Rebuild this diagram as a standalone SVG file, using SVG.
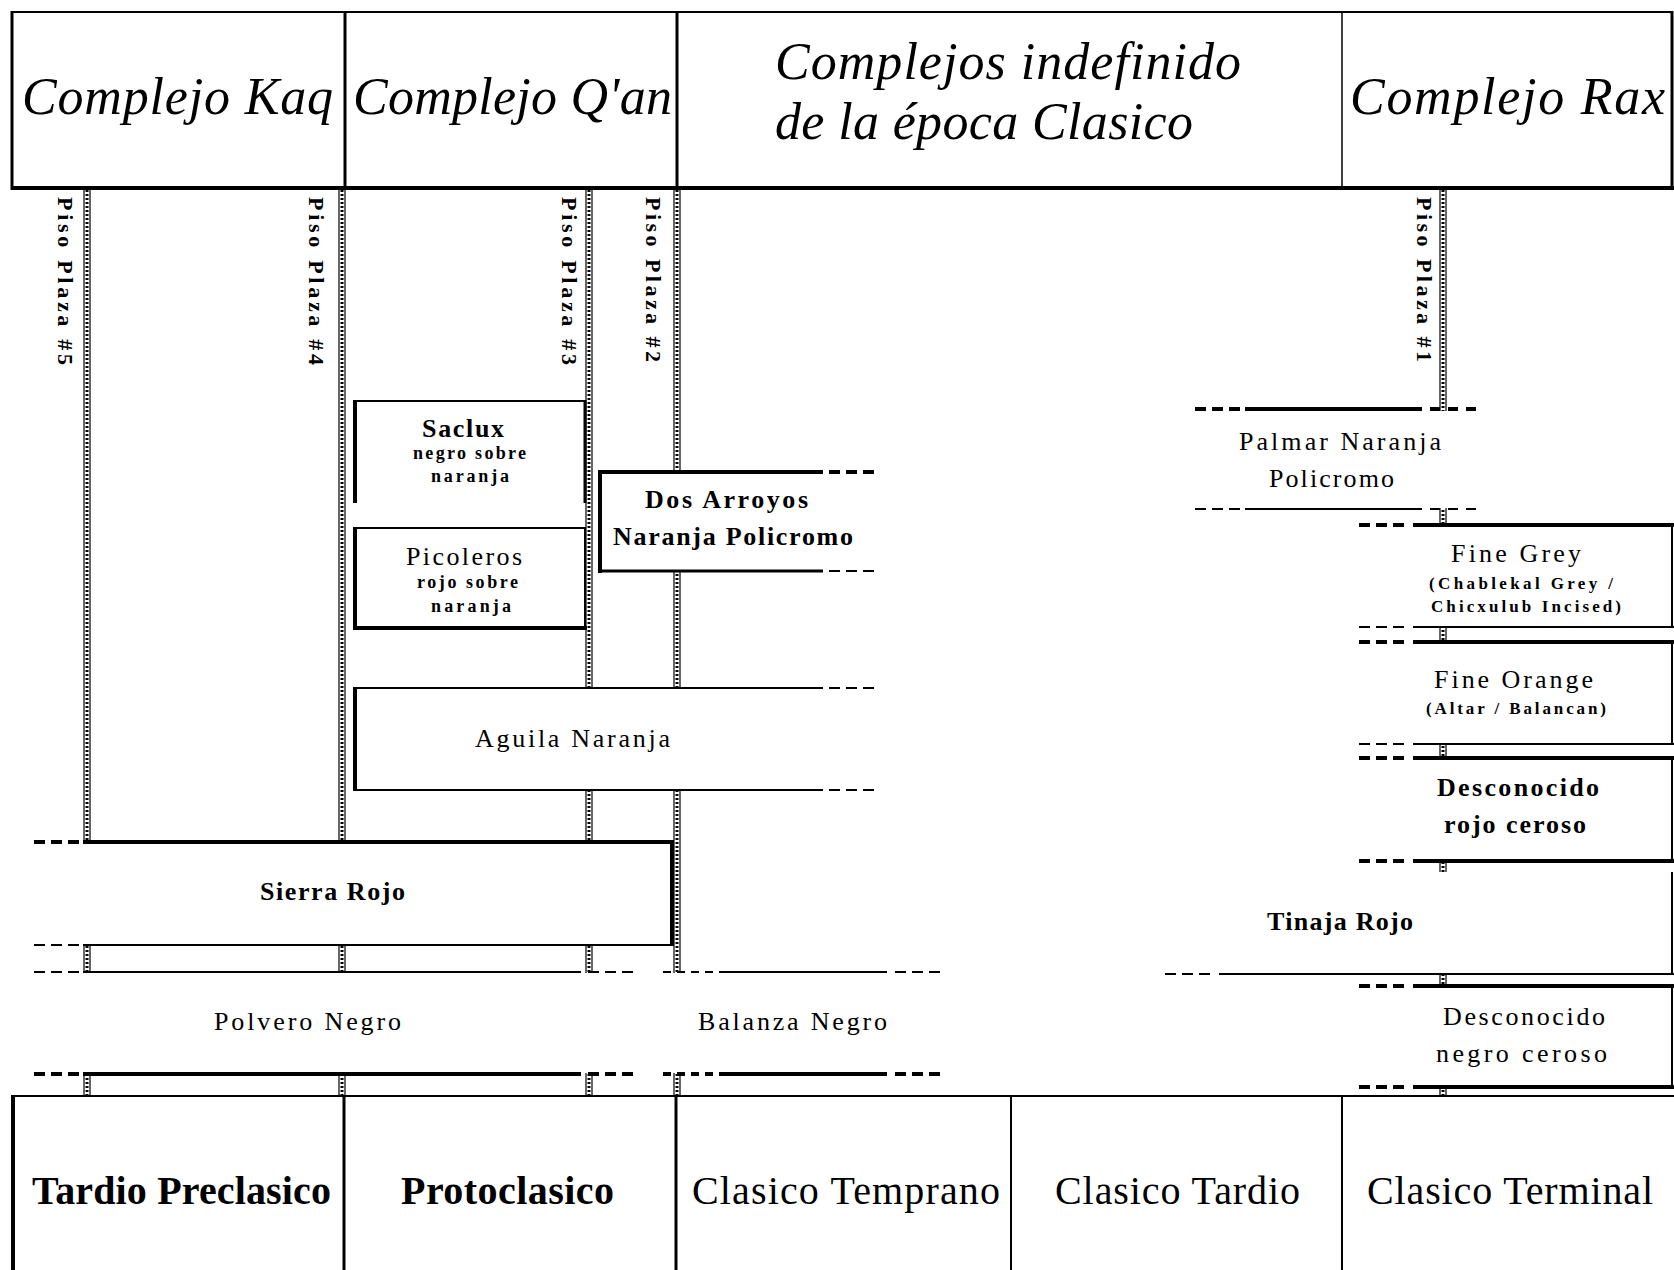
<svg xmlns="http://www.w3.org/2000/svg" width="1674" height="1270" viewBox="0 0 1674 1270">
<style>
.ln{stroke:#000;fill:none;stroke-linecap:butt}
.t4{stroke-width:4}
.t3{stroke-width:3}
.t2{stroke-width:2}
.t1{stroke-width:1.5}
.d{stroke-dasharray:11 6}
.wf{fill:#fff;stroke:none}
text{font-family:"Liberation Serif","Times New Roman",serif;fill:#000}
.hd{font-style:italic;font-size:52px}
.ft{font-size:40px}
.b{font-weight:bold}
.lb{font-size:26px}
.sm{font-size:18px;font-weight:bold}
.xs{font-size:17px;font-weight:bold}
.pl{font-size:22px;font-weight:bold}
.ro{stroke:#000;stroke-width:1.2}
.rm{stroke:#000;stroke-width:3;stroke-dasharray:2 2}
</style>
<rect width="1674" height="1270" fill="#fff"/>

<g id="header">
<line class="ln t2" x1="12" y1="12" x2="1673" y2="12"/>
<line class="ln t4" x1="11" y1="188" x2="1674" y2="188"/>
<line class="ln t3" x1="12" y1="11" x2="12" y2="190"/>
<line class="ln t3" x1="1672" y1="11" x2="1672" y2="190"/>
<line class="ln t3" x1="345" y1="12" x2="345" y2="188"/>
<line class="ln t3" x1="677" y1="12" x2="677" y2="188"/>
<line class="ln t1" x1="1342" y1="12" x2="1342" y2="188"/>
<text class="hd" x="22" y="114" textLength="311" lengthAdjust="spacing">Complejo Kaq</text>
<text class="hd" x="353" y="114" textLength="319" lengthAdjust="spacing">Complejo Q'an</text>
<text class="hd" x="775" y="79" textLength="466" lengthAdjust="spacing">Complejos indefinido</text>
<text class="hd" x="775" y="139" textLength="418" lengthAdjust="spacing">de la época Clasico</text>
<text class="hd" x="1350" y="114" textLength="315" lengthAdjust="spacing">Complejo Rax</text>
</g>

<g id="connectors">
<g id="piso-plaza-5">
<line class="ro" x1="84" y1="190" x2="84" y2="1096"/><line class="ro" x1="90" y1="190" x2="90" y2="1096"/><line class="rm" x1="87" y1="190" x2="87" y2="1096"/>
<text class="pl" x="58" y="197" transform="rotate(90 58 197)" textLength="168" lengthAdjust="spacing">Piso Plaza #5</text>
</g>
<g id="piso-plaza-4">
<line class="ro" x1="339" y1="190" x2="339" y2="1096"/><line class="ro" x1="345" y1="190" x2="345" y2="1096"/><line class="rm" x1="342" y1="190" x2="342" y2="1096"/>
<text class="pl" x="309" y="197" transform="rotate(90 309 197)" textLength="168" lengthAdjust="spacing">Piso Plaza #4</text>
</g>
<g id="piso-plaza-3">
<line class="ro" x1="586" y1="190" x2="586" y2="1096"/><line class="ro" x1="592" y1="190" x2="592" y2="1096"/><line class="rm" x1="589" y1="190" x2="589" y2="1096"/>
<text class="pl" x="562" y="197" transform="rotate(90 562 197)" textLength="168" lengthAdjust="spacing">Piso Plaza #3</text>
</g>
<g id="piso-plaza-2">
<line class="ro" x1="674" y1="190" x2="674" y2="1096"/><line class="ro" x1="680" y1="190" x2="680" y2="1096"/><line class="rm" x1="677" y1="190" x2="677" y2="1096"/>
<text class="pl" x="646" y="197" transform="rotate(90 646 197)" textLength="165" lengthAdjust="spacing">Piso Plaza #2</text>
</g>
<g id="piso-plaza-1">
<line class="ro" x1="1440" y1="190" x2="1440" y2="1096"/><line class="ro" x1="1446" y1="190" x2="1446" y2="1096"/><line class="rm" x1="1443" y1="190" x2="1443" y2="1096"/>
<text class="pl" x="1417" y="197" transform="rotate(90 1417 197)" textLength="165" lengthAdjust="spacing">Piso Plaza #1</text>
</g>
</g>

<g id="saclux">
<rect class="wf" x="354" y="402" width="230" height="100"/>
<line class="ln t2" x1="353" y1="401" x2="586" y2="401"/>
<line class="ln t4" x1="355" y1="400" x2="355" y2="503"/>
<line class="ln t3" x1="585" y1="400" x2="585" y2="503"/>
<text class="lb b" x="422" y="437" textLength="82" lengthAdjust="spacing">Saclux</text>
<text class="sm" x="413" y="459" textLength="113" lengthAdjust="spacing">negro sobre</text>
<text class="sm" x="431" y="482" textLength="78" lengthAdjust="spacing">naranja</text>
</g>

<g id="picoleros">
<rect class="wf" x="354" y="529" width="230" height="98"/>
<line class="ln t2" x1="353" y1="528" x2="586" y2="528"/>
<line class="ln t4" x1="355" y1="527" x2="355" y2="630"/>
<line class="ln t2" x1="585" y1="527" x2="585" y2="630"/>
<line class="ln t4" x1="353" y1="628" x2="587" y2="628"/>
<text class="lb" x="406" y="565" textLength="116" lengthAdjust="spacing">Picoleros</text>
<text class="sm" x="417" y="588" textLength="101" lengthAdjust="spacing">rojo sobre</text>
<text class="sm" x="431" y="612" textLength="80" lengthAdjust="spacing">naranja</text>
</g>

<g id="dos-arroyos">
<rect class="wf" x="600" y="473" width="276" height="97"/>
<line class="ln t4" x1="598" y1="472" x2="823" y2="472"/>
<line class="ln t4 d" x1="829" y1="472" x2="876" y2="472"/>
<line class="ln t3" x1="598" y1="571" x2="823" y2="571"/>
<line class="ln t2 d" x1="829" y1="571" x2="876" y2="571"/>
<line class="ln t4" x1="600" y1="470" x2="600" y2="573"/>
<text class="lb b" x="645" y="508" textLength="163" lengthAdjust="spacing">Dos Arroyos</text>
<text class="lb b" x="613" y="545" textLength="240" lengthAdjust="spacing">Naranja Policromo</text>
</g>

<g id="aguila-naranja">
<rect class="wf" x="354" y="689" width="526" height="100"/>
<line class="ln t2" x1="353" y1="688" x2="823" y2="688"/>
<line class="ln t2 d" x1="829" y1="688" x2="878" y2="688"/>
<line class="ln t2" x1="353" y1="790" x2="823" y2="790"/>
<line class="ln t2 d" x1="829" y1="790" x2="878" y2="790"/>
<line class="ln t4" x1="355" y1="687" x2="355" y2="791"/>
<text class="lb" x="475" y="747" textLength="195" lengthAdjust="spacing">Aguila Naranja</text>
</g>

<g id="sierra-rojo">
<rect class="wf" x="30" y="843" width="642" height="101"/>
<line class="ln t4" x1="83" y1="842" x2="674" y2="842"/>
<line class="ln t4 d" x1="34" y1="842" x2="81" y2="842"/>
<line class="ln t4" x1="672" y1="840" x2="672" y2="946"/>
<line class="ln t2" x1="83" y1="945" x2="674" y2="945"/>
<line class="ln t2 d" x1="34" y1="945" x2="81" y2="945"/>
<text class="lb b" x="260" y="900" textLength="145" lengthAdjust="spacing">Sierra Rojo</text>
</g>

<g id="polvero-negro">
<rect class="wf" x="30" y="973" width="612" height="100"/>
<line class="ln t2" x1="83" y1="972" x2="581" y2="972"/>
<line class="ln t2 d" x1="34" y1="972" x2="81" y2="972"/>
<line class="ln t2 d" x1="588" y1="972" x2="636" y2="972"/>
<line class="ln t4" x1="83" y1="1074" x2="581" y2="1074"/>
<line class="ln t4 d" x1="34" y1="1074" x2="81" y2="1074"/>
<line class="ln t4 d" x1="588" y1="1074" x2="636" y2="1074"/>
<text class="lb" x="214" y="1030" textLength="187" lengthAdjust="spacing">Polvero Negro</text>
</g>

<g id="balanza-negro">
<rect class="wf" x="655" y="973" width="290" height="100"/>
<line class="ln t2" x1="719" y1="972" x2="887" y2="972"/>
<line class="ln t2" x1="663" y1="972" x2="715" y2="972" stroke-dasharray="8 6"/>
<line class="ln t2" x1="895" y1="972" x2="945" y2="972" stroke-dasharray="11 6"/>
<line class="ln t4" x1="719" y1="1074" x2="887" y2="1074"/>
<line class="ln t4" x1="663" y1="1074" x2="715" y2="1074" stroke-dasharray="8 6"/>
<line class="ln t4" x1="895" y1="1074" x2="945" y2="1074" stroke-dasharray="11 6"/>
<text class="lb" x="698" y="1030" textLength="189" lengthAdjust="spacing">Balanza Negro</text>
</g>

<g id="palmar-naranja-policromo">
<rect class="wf" x="1190" y="411" width="290" height="97"/>
<line class="ln t4" x1="1245" y1="409" x2="1422" y2="409"/>
<line class="ln t4 d" x1="1195" y1="409" x2="1240" y2="409"/>
<line class="ln t4" x1="1430" y1="409" x2="1478" y2="409" stroke-dasharray="10 8"/>
<line class="ln t2" x1="1245" y1="509" x2="1422" y2="509"/>
<line class="ln t2 d" x1="1195" y1="509" x2="1240" y2="509"/>
<line class="ln t2" x1="1430" y1="509" x2="1478" y2="509" stroke-dasharray="10 8"/>
<text class="lb" x="1239" y="450" textLength="202" lengthAdjust="spacing">Palmar Naranja</text>
<text class="lb" x="1269" y="487" textLength="125" lengthAdjust="spacing">Policromo</text>
</g>

<g id="fine-grey">
<rect class="wf" x="1414" y="526" width="257" height="100"/>
<line class="ln t4" x1="1413" y1="525" x2="1674" y2="525"/>
<line class="ln t4 d" x1="1359" y1="525" x2="1408" y2="525"/>
<line class="ln t2" x1="1413" y1="627" x2="1674" y2="627"/>
<line class="ln t2 d" x1="1359" y1="627" x2="1408" y2="627"/>
<line class="ln t2" x1="1672" y1="525" x2="1672" y2="627"/>
<text class="lb" x="1451" y="562" textLength="130" lengthAdjust="spacing">Fine Grey</text>
<text class="xs" x="1429" y="589" textLength="184" lengthAdjust="spacing">(Chablekal Grey /</text>
<text class="xs" x="1431" y="612" textLength="190" lengthAdjust="spacing">Chicxulub Incised)</text>
</g>

<g id="fine-orange">
<rect class="wf" x="1414" y="643" width="257" height="100"/>
<line class="ln t4" x1="1413" y1="642" x2="1674" y2="642"/>
<line class="ln t4 d" x1="1359" y1="642" x2="1408" y2="642"/>
<line class="ln t2" x1="1413" y1="744" x2="1674" y2="744"/>
<line class="ln t2 d" x1="1359" y1="744" x2="1408" y2="744"/>
<line class="ln t2" x1="1672" y1="642" x2="1672" y2="744"/>
<text class="lb" x="1434" y="688" textLength="159" lengthAdjust="spacing">Fine Orange</text>
<text class="xs" x="1426" y="714" textLength="180" lengthAdjust="spacing">(Altar / Balancan)</text>
</g>

<g id="desconocido-rojo-ceroso">
<rect class="wf" x="1414" y="759" width="257" height="101"/>
<line class="ln t4" x1="1413" y1="758" x2="1674" y2="758"/>
<line class="ln t4 d" x1="1359" y1="758" x2="1408" y2="758"/>
<line class="ln t4" x1="1413" y1="861" x2="1674" y2="861"/>
<line class="ln t4 d" x1="1359" y1="861" x2="1408" y2="861"/>
<line class="ln t2" x1="1672" y1="758" x2="1672" y2="861"/>
<text class="lb b" x="1437" y="796" textLength="162" lengthAdjust="spacing">Desconocido</text>
<text class="lb b" x="1444" y="833" textLength="142" lengthAdjust="spacing">rojo ceroso</text>
</g>

<g id="tinaja-rojo">
<rect class="wf" x="1160" y="872" width="511" height="101"/>
<line class="ln t2" x1="1672" y1="872" x2="1672" y2="975"/>
<line class="ln t2" x1="1219" y1="974" x2="1674" y2="974"/>
<line class="ln t2 d" x1="1165" y1="974" x2="1214" y2="974"/>
<text class="lb b" x="1267" y="930" textLength="146" lengthAdjust="spacing">Tinaja Rojo</text>
</g>

<g id="desconocido-negro-ceroso">
<rect class="wf" x="1414" y="987" width="257" height="99"/>
<line class="ln t4" x1="1413" y1="986" x2="1674" y2="986"/>
<line class="ln t4 d" x1="1359" y1="986" x2="1408" y2="986"/>
<line class="ln t4" x1="1413" y1="1087" x2="1674" y2="1087"/>
<line class="ln t4 d" x1="1359" y1="1087" x2="1408" y2="1087"/>
<line class="ln t2" x1="1672" y1="986" x2="1672" y2="1087"/>
<text class="lb" x="1443" y="1025" textLength="162" lengthAdjust="spacing">Desconocido</text>
<text class="lb" x="1436" y="1062" textLength="171" lengthAdjust="spacing">negro ceroso</text>
</g>

<g id="footer">
<line class="ln t2" x1="12" y1="1096" x2="1674" y2="1096"/>
<line class="ln t4" x1="13" y1="1095" x2="13" y2="1270"/>
<line class="ln t3" x1="344" y1="1096" x2="344" y2="1270"/>
<line class="ln t3" x1="676" y1="1096" x2="676" y2="1270"/>
<line class="ln t2" x1="1011" y1="1096" x2="1011" y2="1270"/>
<line class="ln t2" x1="1342" y1="1096" x2="1342" y2="1270"/>
<text class="ft b" x="32" y="1204" textLength="299" lengthAdjust="spacing">Tardio Preclasico</text>
<text class="ft b" x="401" y="1204" textLength="213" lengthAdjust="spacing">Protoclasico</text>
<text class="ft" x="692" y="1204" textLength="308" lengthAdjust="spacing">Clasico Temprano</text>
<text class="ft" x="1055" y="1204" textLength="245" lengthAdjust="spacing">Clasico Tardio</text>
<text class="ft" x="1367" y="1204" textLength="286" lengthAdjust="spacing">Clasico Terminal</text>
</g>
</svg>
